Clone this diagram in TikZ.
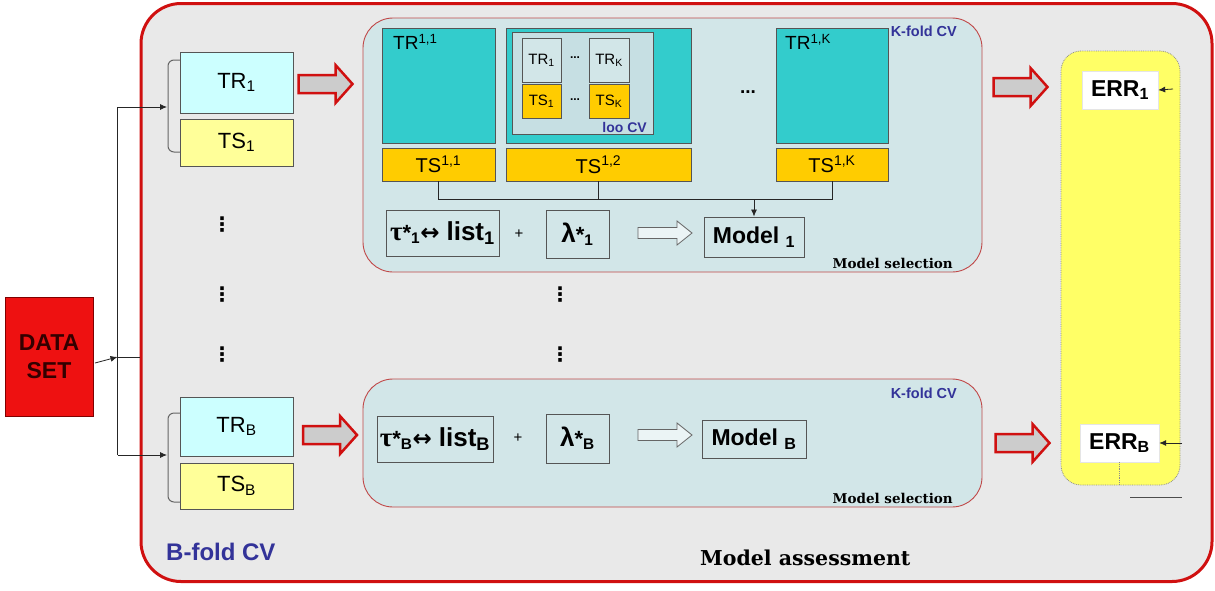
\documentclass[tikz,border=0pt]{standalone}
\usepackage{fontspec}
\setmainfont{Liberation Sans}
\newfontfamily\serifb{DejaVu Serif}
\newfontfamily\dejavu{DejaVu Sans}
\newfontfamily\tms{Liberation Serif}
\usetikzlibrary{arrows.meta}
\definecolor{outerfill}{HTML}{E9E9E9}
\definecolor{outerred}{HTML}{D01010}
\definecolor{panelfill}{HTML}{D2E6E8}
\definecolor{loofill}{HTML}{C6DFE3}
\definecolor{panelred}{HTML}{C04848}
\definecolor{tealbox}{HTML}{33CCCC}
\definecolor{goldbox}{HTML}{FFCC00}
\definecolor{trfill}{HTML}{CCFFFF}
\definecolor{tsfill}{HTML}{FFFF99}
\definecolor{errcol}{HTML}{FFFF66}
\definecolor{lblue}{HTML}{333399}
\definecolor{boxline}{HTML}{555555}
\definecolor{arrowgray}{HTML}{CCCCCC}
\definecolor{datared}{HTML}{EE1111}
\newcommand\fs[1]{\fontsize{#1}{#1}\selectfont}
% style, name, cx, cy, length, shaft half, head half, head length
\newcommand\fatarrow[8]{%
  \draw[#1, shift={(#3,#4)}] (-#5/2,-#6) -- ({#5/2-#8},-#6) -- ({#5/2-#8},-#7) -- ({#5/2},0)
    -- ({#5/2-#8},#7) -- ({#5/2-#8},#6) -- (-#5/2,#6) -- cycle;
  \coordinate (#2) at (#3,#4);}
\newcommand\lr{{\dejavu\bfseries\fs{23}↔}\hspace{7pt}}
\tikzset{
  box/.style={draw=boxline, line width=0.9pt, inner sep=0pt},
  redarrow/.style={draw=outerred, fill=arrowgray, line width=2.5pt},
  hollowarrow/.style={draw=black!60, fill=panelfill!45, line width=0.8pt},
  conn/.style={line width=0.8pt, black!85},
  tipped/.style={conn, -{Latex[length=7pt,width=6pt]}},
  bracket/.style={draw=black!60, line width=1pt, rounded corners=6pt},
  vdots/.style={font=\dejavu\bfseries\fs{20}, inner sep=0pt},
  kfold/.style={text=lblue, font=\bfseries\fs{14.5}, inner sep=0pt},
  selection/.style={font=\serifb\bfseries\fs{13.5}, inner sep=0pt},
  panel/.style={draw=panelred, fill=panelfill, line width=0.9pt, rounded corners=30pt, inner sep=0pt},
}
\begin{document}
\begin{tikzpicture}[x=1pt,y=-1pt]
\useasboundingbox[fill=white] (0,0) rectangle (1215,590);
% outer
\node[draw=outerred, fill=outerfill, line width=3pt, rounded corners=40pt,
  minimum width=1071, minimum height=578, inner sep=0pt] (outer) at (676.5,292.5) {};
% data set
\node[fill=datared, draw=red!50!black, line width=0.8pt, minimum width=88, minimum height=119,
  inner sep=0pt, align=center, font=\bfseries\fontsize{23}{28}\selectfont, text=red!20!black] (DS) at (49,356.5)
  {DATA\\SET};
\coordinate (dsout) at (95,363);
\coordinate (j) at (117.5,357);
\coordinate (jo) at (140,357);
\coordinate (jt) at (117.5,107);
\coordinate (jb) at (117.5,455);
\coordinate (br1) at (167,107);
\coordinate (brB) at (167,455);
\draw[tipped] (dsout) -- (j);
\draw[conn] (j) -- (jo);
\draw[conn] (jt) -- (jb);
\draw[tipped] (jt) -- (br1);
\draw[tipped] (jb) -- (brB);
% left boxes
\node[box, fill=trfill, minimum width=113, minimum height=61, font=\fs{22}] (TR1) at (236.5,82.5) {TR\textsubscript{1}};
\node[box, fill=tsfill, minimum width=113, minimum height=47, font=\fs{22}] (TS1) at (236.5,142.5) {TS\textsubscript{1}};
\node[box, fill=trfill, minimum width=113, minimum height=59, font=\fs{22}] (TRB) at (236.5,426.5) {TR\textsubscript{B}};
\node[box, fill=tsfill, minimum width=113, minimum height=46, font=\fs{22}] (TSB) at (236.5,486) {TS\textsubscript{B}};
\draw[bracket] (180,60) -- (168,60) -- (168,152) -- (180,152);
\draw[bracket] (180,413) -- (168,413) -- (168,502) -- (180,502);
% dots
\node[vdots] (dl1) at (222,225) {⋮};
\node[vdots] (dl2) at (222,295) {⋮};
\node[vdots] (dl3) at (222,355) {⋮};
\node[vdots] (dm2) at (560,295) {⋮};
\node[vdots] (dm3) at (560,355) {⋮};
\node[vdots] (dr1) at (1112,225) {⋮};
\node[vdots] (dr2) at (1112,295) {⋮};
\node[vdots] (dr3) at (1112,355) {⋮};
% red arrows
\fatarrow{redarrow}{L1}{325.5}{84}{54}{9}{19}{17}
\fatarrow{redarrow}{LB}{330}{435}{54}{9}{19}{17}
\fatarrow{redarrow}{R1}{1020.5}{87}{54}{9}{19}{17}
\fatarrow{redarrow}{RB}{1022.5}{443}{54}{9}{19}{17}
% top panel
\node[panel, minimum width=619, minimum height=254] (P1) at (672.5,145) {};
\node[box, fill=tealbox, minimum width=113, minimum height=115] (TR11) at (438.5,85.5) {};
\node[anchor=north west, inner sep=0pt, font=\fs{19}] (TR11l) at (393,34) {TR\textsuperscript{1,1}};
\node[box, fill=goldbox, minimum width=113, minimum height=33, font=\fs{20}] (TS11) at (438.5,164.5) {TS\textsuperscript{1,1}};
\node[box, fill=tealbox, minimum width=185, minimum height=115] (TR12) at (598.5,85.5) {};
\node[box, fill=loofill, minimum width=141, minimum height=102] (loo) at (582.5,83) {};
\node[box, fill=goldbox, minimum width=185, minimum height=33, font=\fs{20}] (TS12) at (598.5,164.5) {TS\textsuperscript{1,2}};
\node[box, fill=panelfill, minimum width=39, minimum height=44, font=\fs{15}] (sTR1) at (541.5,60) {TR\textsubscript{1}};
\node[box, fill=panelfill, minimum width=40, minimum height=44, font=\fs{15}] (sTRK) at (609,60) {TR\textsubscript{K}};
\node[box, fill=goldbox, minimum width=39, minimum height=34, font=\fs{15}] (sTS1) at (541.5,101) {TS\textsubscript{1}};
\node[box, fill=goldbox, minimum width=40, minimum height=34, font=\fs{15}] (sTSK) at (609,101) {TS\textsubscript{K}};
\node[inner sep=0pt, font=\bfseries\fs{12}] (sd1) at (575,58) {...};
\node[inner sep=0pt, font=\bfseries\fs{12}] (sd2) at (575,100) {...};
\node[kfold, anchor=east, font=\bfseries\fs{14}] (looCV) at (647,127) {loo CV};
\node[inner sep=0pt, font=\bfseries\fs{19}] (hd) at (748,92) {...};
\node[box, fill=tealbox, minimum width=112, minimum height=115] (TR1K) at (832,85.5) {};
\node[anchor=north west, inner sep=0pt, font=\fs{19}] (TR1Kl) at (785,34) {TR\textsuperscript{1,K}};
\node[box, fill=goldbox, minimum width=112, minimum height=33, font=\fs{20}] (TS1K) at (832,164.5) {TS\textsuperscript{1,K}};
\node[kfold, anchor=east] (kf1) at (957,31) {K-fold CV};
\draw[conn] (TS11.south) -- ++(0,18) coordinate (hl) -| (TS1K.south);
\draw[conn] (TS12.south) -- (TS12.south |- hl);
\node[box, fill=panelfill, minimum width=113, minimum height=46, font=\bfseries] (tau1) at (442.5,233)
  {{\tms\fs{27}τ}{\fs{22}*\textsubscript{1}}\lr{\fs{26}list\textsubscript{1}}};
\node[inner sep=0pt, font=\fs{15}] (plus1) at (519,234) {+};
\node[box, fill=panelfill, minimum width=63, minimum height=48, font=\bfseries] (lam1) at (577.5,234)
  {{\fs{26}λ}{\fs{22}*\textsubscript{1}}};
\fatarrow{hollowarrow}{ha1}{665}{233}{54}{5.5}{12}{15}
\node[box, fill=panelfill, minimum width=100, minimum height=40, font=\bfseries\fs{23}] (M1) at (754,237) {Model \textsubscript{1}};
\draw[tipped] (M1.north |- hl) -- (M1.north);
\node[selection, anchor=east] (ms1) at (953,263) {Model selection};
% bottom panel
\node[panel, minimum width=619, minimum height=128] (P2) at (672.5,443) {};
\node[kfold, anchor=east] (kf2) at (957,393) {K-fold CV};
\node[box, fill=panelfill, minimum width=116, minimum height=46, font=\bfseries] (tauB) at (435,439)
  {{\tms\fs{27}τ}{\fs{22}*\textsubscript{B}}\lr{\fs{26}list\textsubscript{B}}};
\node[inner sep=0pt, font=\fs{15}] (plusB) at (518,438) {+};
\node[box, fill=panelfill, minimum width=63, minimum height=49, font=\bfseries] (lamB) at (577.5,438.5)
  {{\fs{26}λ}{\fs{22}*\textsubscript{B}}};
\fatarrow{hollowarrow}{haB}{665}{435}{54}{5.5}{12}{15}
\node[box, fill=panelfill, minimum width=104, minimum height=38, font=\bfseries\fs{23}] (MB) at (754,439) {Model \textsubscript{B}};
\node[selection, anchor=east] (msB) at (953,498) {Model selection};
% err column
\node[draw=black!45, densely dotted, fill=errcol, line width=0.8pt, rounded corners=20pt,
  minimum width=119, minimum height=434, inner sep=0pt] (col) at (1120.5,268) {};
\node[fill=white, draw=black!10, minimum width=76, minimum height=38, inner sep=0pt, font=\bfseries\fs{23}] (ERR1) at (1120,90) {ERR\textsubscript{1}};
\node[fill=white, draw=black!10, minimum width=79, minimum height=38, inner sep=0pt, font=\bfseries\fs{23}] (ERRB) at (1119.5,443) {ERR\textsubscript{B}};
\coordinate (e1) at (1173,89);
\coordinate (eB) at (1182,443);
\draw[tipped] (e1) -- (ERR1.east);
\draw[tipped] (eB) -- (ERRB.east);
\draw[black!45, densely dotted, line width=0.8pt] (ERRB.south) -- (ERRB.south |- col.south);
\coordinate (ul1) at (1130,497);
\coordinate (ul2) at (1182,497);
\draw[black!70, line width=0.8pt] (ul1) -- (ul2);
% labels
\node[anchor=west, inner sep=0pt, text=lblue, font=\bfseries\fs{24}] (bfold) at (166,552) {B-fold CV};
\node[anchor=west, inner sep=0pt, font=\serifb\bfseries\fs{20.5}] (assess) at (700,558) {Model assessment};
\end{tikzpicture}
\end{document}
